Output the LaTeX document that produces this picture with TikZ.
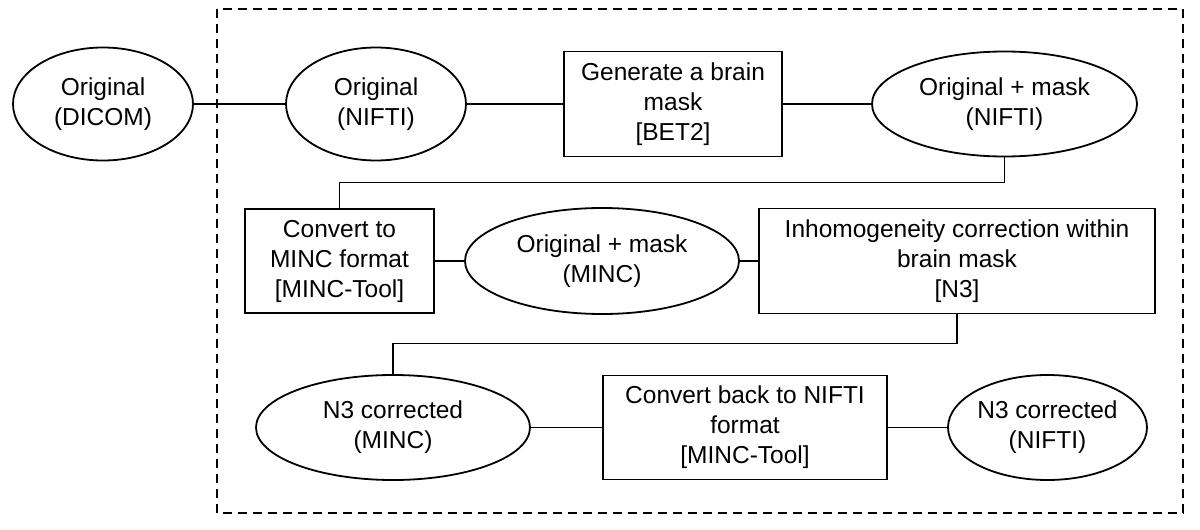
\documentclass[tikz,border=0pt]{standalone}
\usepackage{fontspec}
\setmainfont{Liberation Sans}
\usepackage{tikz}
\usetikzlibrary{shapes.geometric,positioning}
\tikzset{
    %Define style for data (ellipses)
    dataell/.style={
           ellipse,
           draw=black, line width=1.8pt,
           inner sep=-30pt, outer sep=0pt,
           align=center,
           minimum height=105pt,
           font=\fontsize{24.5pt}{30pt}\selectfont},
    %Define style for processing steps
    stepbox/.style={
           rectangle,
           draw=black, line width=1.8pt,
           inner sep=2pt, outer sep=0pt,
           align=center,
           minimum height=105pt,
           font=\fontsize{24.5pt}{30pt}\selectfont},
    % Define connector style
    link/.style={
           line width=1.2pt},
    frame/.style={
           draw=black, line width=1.6pt,
           dash pattern=on 9pt off 6pt}
}
\begin{document}
\begin{tikzpicture}[x=1pt,y=1pt]
\useasboundingbox (0,0) rectangle (1200,-530);
\draw[frame] (217,-9) rectangle (1183,-513);
% first row
\node[dataell, minimum width=180pt, minimum height=113pt] (dicom) at (103,-104) {Original\\(DICOM)};
\node[dataell, minimum width=180pt, minimum height=113pt, right=93pt of dicom] (nifti) {Original\\(NIFTI)};
\node[stepbox, minimum width=218pt, right=98pt of nifti] (bet) {Generate a brain\\mask\\{[BET2]}};
\node[dataell, minimum width=265pt, right=90pt of bet] (masknii) {Original + mask\\(NIFTI)};
% second row
\node[stepbox, minimum width=189pt, minimum height=104pt] (minctool) at (339.5,-261) {Convert to\\MINC format\\{[MINC-Tool]}};
\node[dataell, minimum width=274pt, minimum height=106pt, right=31pt of minctool] (mincmask) {Original + mask\\(MINC)};
\node[stepbox, minimum width=396pt, right=20pt of mincmask] (n3box) {Inhomogeneity correction within\\brain mask\\{[N3]}};
% third row
\node[dataell, minimum width=274pt] (n3minc) at (393,-427.5) {N3 corrected\\(MINC)};
\node[stepbox, minimum width=284pt, minimum height=104pt, right=73pt of n3minc] (backbox) {Convert back to NIFTI\\format\\{[MINC-Tool]}};
\node[dataell, minimum width=199pt, right=61pt of backbox] (n3nii) {N3 corrected\\(NIFTI)};
\path[link]
    (dicom) edge (nifti)
    (nifti) edge (bet)
    (bet) edge (masknii)
    (minctool) edge (mincmask)
    (mincmask) edge (n3box)
    (n3minc) edge (backbox)
    (backbox) edge (n3nii);
\draw[link] (masknii.south) -- ++(0,-26) -| (minctool.north);
\draw[link] (n3box.south) -- ++(0,-30) -| (n3minc.north);
\end{tikzpicture}
\end{document}
